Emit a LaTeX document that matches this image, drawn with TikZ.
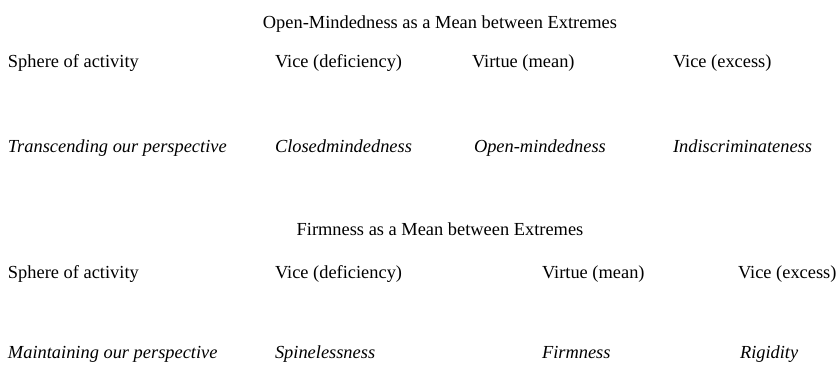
\documentclass[tikz,border=0pt]{standalone}
\usepackage{fontspec}
\setmainfont{Liberation Serif}
\usepackage{tikz}

\begin{document}
\begin{tikzpicture}[x=1pt,y=-1pt,
  every node/.style={inner sep=0pt,outer sep=0pt,font=\fontsize{18.4pt}{22pt}\selectfont},
  cell/.style={anchor=base west},
  trait/.style={anchor=base west,font=\fontsize{18.4pt}{22pt}\selectfont\itshape},
  caption/.style={anchor=base}]
\useasboundingbox (0,0) rectangle (840,367);

% first table
\node[caption] (title1) at (440,28) {Open-Mindedness as a Mean between Extremes};
\node[cell] (sph1) at (8,67) {Sphere of activity};
\node[cell] (def1) at (275,67) {Vice (deficiency)};
\node[cell] (mean1) at (472,67) {Virtue (mean)};
\node[cell] (exc1) at (673,67) {Vice (excess)};
\node[trait] (act1) at (8,152) {Transcending our perspective};
\node[trait] (lack1) at (275,152) {Closedmindedness};
\node[trait] (good1) at (474,152) {Open-mindedness};
\node[trait] (much1) at (673,152) {Indiscriminateness};

% second table
\node[caption] (title2) at (440,235) {Firmness as a Mean between Extremes};
\node[cell] (sph2) at (8,278) {Sphere of activity};
\node[cell] (def2) at (275,278) {Vice (deficiency)};
\node[cell] (mean2) at (542,278) {Virtue (mean)};
\node[cell] (exc2) at (738,278) {Vice (excess)};
\node[trait] (act2) at (8,358) {Maintaining our perspective};
\node[trait] (lack2) at (275,358) {Spinelessness};
\node[trait] (good2) at (542,358) {Firmness};
\node[trait] (much2) at (740,358) {Rigidity};

\end{tikzpicture}
\end{document}
